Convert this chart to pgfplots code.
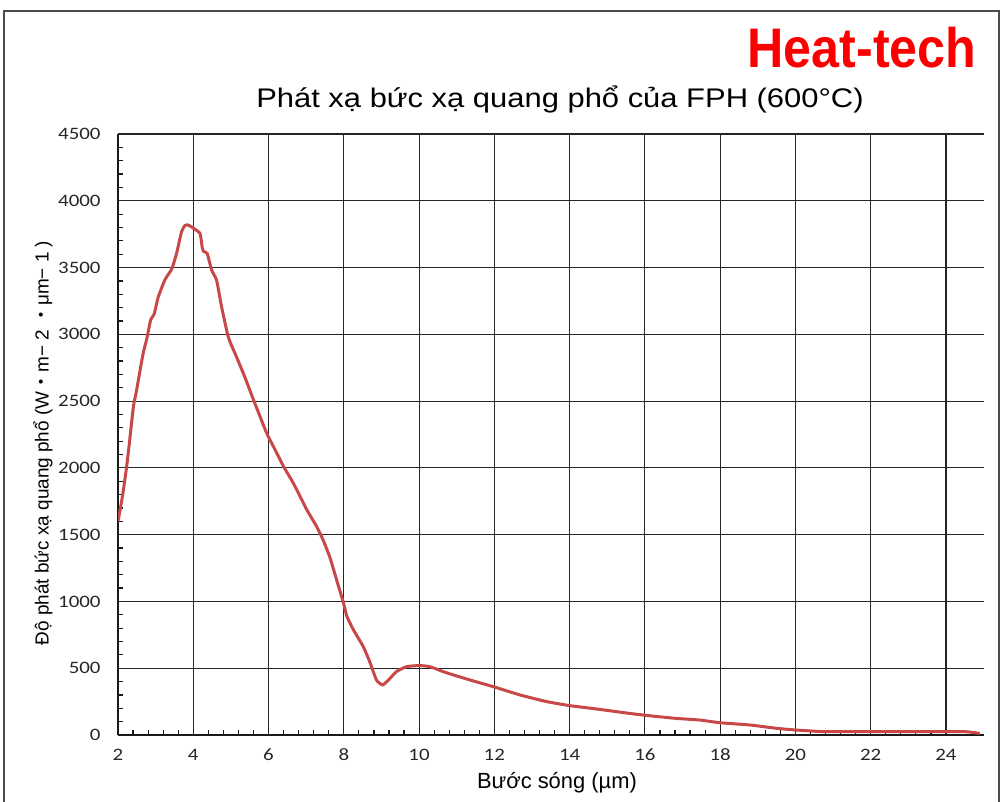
\documentclass[border=0pt]{standalone}
\usepackage{pgfplots}
\pgfplotsset{compat=1.18}
\usepackage{fontspec}
\setmainfont{Liberation Sans}
\newfontfamily\tickfont{Carlito}
\newfontfamily\cjk{Noto Sans CJK JP}
\definecolor{curve}{RGB}{200,72,72}
\definecolor{logored}{RGB}{250,0,0}
\begin{document}
\begin{tikzpicture}
\path[use as bounding box] (0bp,0bp) rectangle (1002bp,802bp);
\draw[black!70, line width=1.5bp] (4bp,0bp) -- (4bp,791bp) -- (999bp,791bp) -- (999bp,0bp);
\begin{axis}[
  at={(118bp,67bp)}, anchor=south west,
  scale only axis, width=865.6bp, height=601bp,
  xmin=2, xmax=25, ymin=0, ymax=4500,
  axis x line=bottom, axis y line=left,
  axis line style={-, line width=1.2bp, black!90},
  xtick={2,4,...,24}, ytick={0,500,...,4500},
  minor x tick num=4, minor y tick num=4,
  tick align=inside, major tick length=0pt, minor tick length=5bp,
  minor tick style={line width=1.2bp, black!90},
  grid=major, major grid style={black!85, line width=1.1bp},
  /pgf/number format/assume math mode=true,
  /pgf/number format/1000 sep={},
  ticklabel style={font=\tickfont\fontsize{17.5}{17.5}\selectfont, text=black!85, xscale=1.2},
  xticklabel style={anchor=base, yshift=-26bp},
  yticklabel style={xshift=-11bp},
]
\addplot[curve, line width=3bp, smooth, tension=0.3] coordinates {
(2.00,1600) (2.12,1790) (2.23,2010) (2.30,2180) (2.41,2460) (2.48,2560)
(2.58,2720) (2.67,2860) (2.76,2960) (2.87,3110) (2.96,3150) (3.07,3280)
(3.25,3410) (3.43,3490) (3.56,3610) (3.69,3770) (3.78,3815) (3.84,3820)
(3.92,3810) (4.00,3795) (4.18,3755) (4.24,3645) (4.28,3620) (4.37,3605)
(4.49,3480) (4.62,3405) (4.75,3210) (4.93,2980) (5.15,2830) (5.37,2680)
(5.60,2510) (5.95,2260) (6.13,2160) (6.40,2010) (6.66,1885) (7.01,1690)
(7.28,1560) (7.45,1460) (7.63,1330) (7.81,1160) (7.99,990) (8.08,890)
(8.25,790) (8.52,660) (8.70,540) (8.87,410) (9.03,375) (9.18,410)
(9.40,475) (9.67,512) (10.02,520) (10.29,511) (10.73,466) (11.35,412)
(11.97,362) (12.68,300) (13.39,250) (14.00,220) (14.71,195) (15.5,165)
(16.0,148) (16.8,125) (17.46,112) (17.99,92) (18.79,75) (19.5,50)
(20.03,37) (20.74,25) (21.5,25) (22.5,25) (23.5,25) (24.5,25) (24.9,12)
};
\end{axis}
\node[anchor=base, inner sep=0pt, font=\fontsize{27}{27}\selectfont, xscale=1.15] at (560bp,694bp) {Phát xạ bức xạ quang phổ của FPH (600°C)};
\node[anchor=base, inner sep=0pt, text=logored, font=\bfseries\fontsize{56}{56}\selectfont, xscale=0.9] at (862bp,734bp) {Heat-tech};
\node[anchor=base, inner sep=0pt, font=\fontsize{22}{22}\selectfont] at (557bp,14bp) {Bước sóng (µm)};
\node[rotate=90, inner sep=0pt, font=\fontsize{19}{19}\selectfont] at (43bp,359bp) {Độ phát bức xạ quang phổ (W{\cjk ・}m− 2 {\cjk ・}μm− 1 )};
\end{tikzpicture}
\end{document}
